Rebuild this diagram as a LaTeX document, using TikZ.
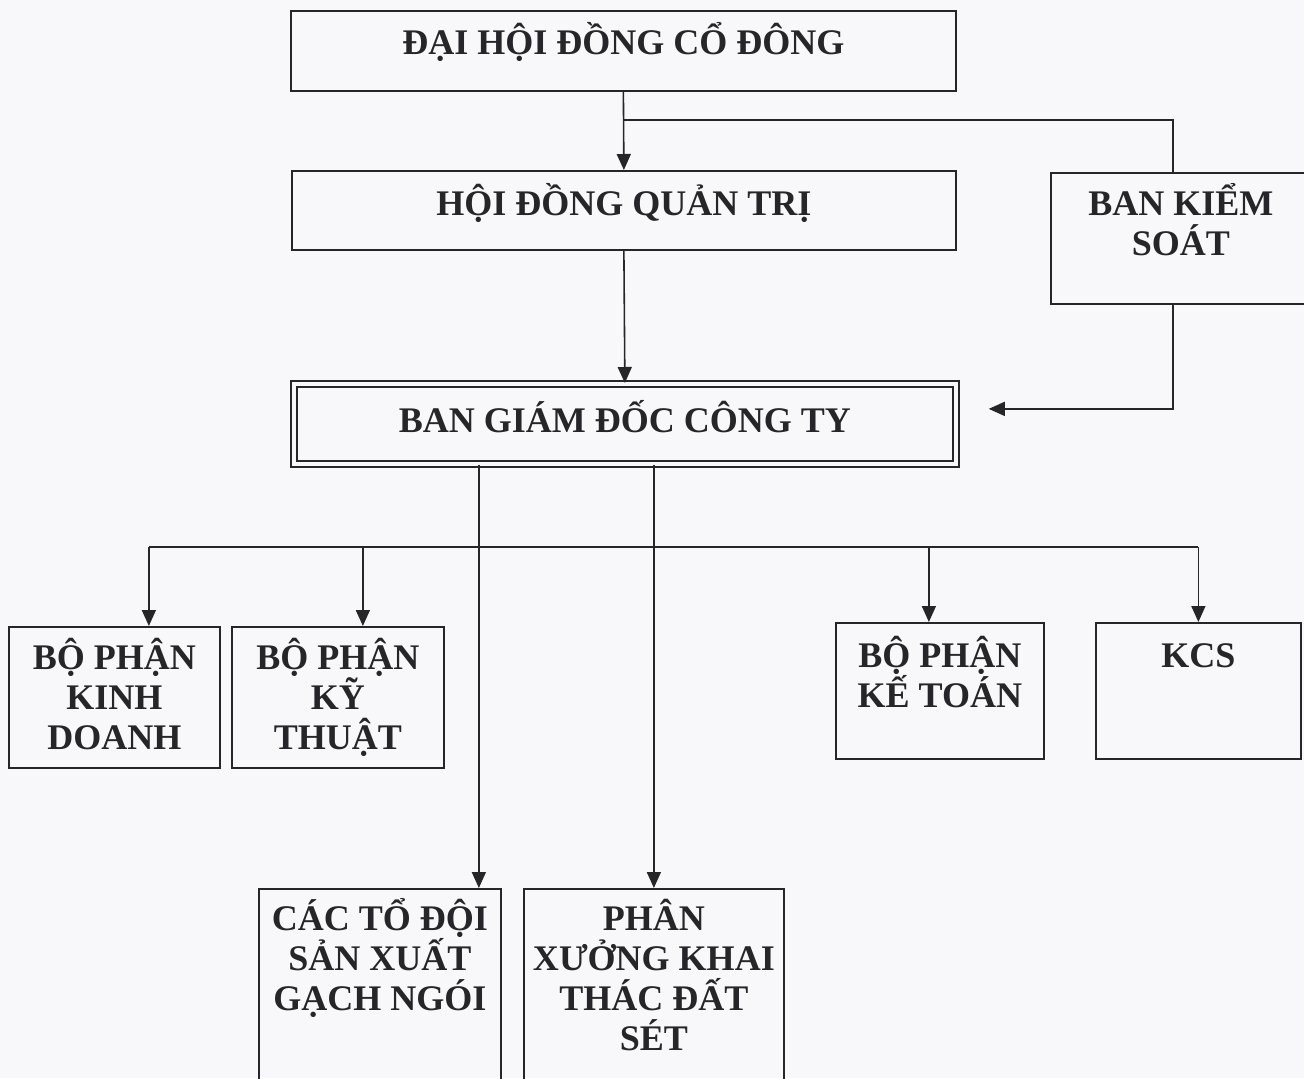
\documentclass[tikz,border=0pt]{standalone}
\usepackage{fontspec}
\setmainfont{Liberation Serif}
\usepackage{tikz}
\usetikzlibrary{positioning,calc,arrows.meta}
\newlength{\pxu}
\setlength{\pxu}{0.02cm}
\definecolor{ink}{RGB}{38,38,42}
\definecolor{paper}{RGB}{248,248,250}
\tikzset{
  orgbox/.style={draw=ink, line width=1pt, inner sep=0pt, anchor=north west, text=ink,
    font=\bfseries\fontsize{20.5pt}{0.8cm}\selectfont},
  link/.style={draw=ink, line width=0.9pt},
  arr/.style={link, -{Triangle[length=0.32cm,width=0.28cm]}}
}
% [options] name, top-left corner, width, height, first baseline, text
\newcommand{\obox}[7][]{\node [orgbox,#1] (#2) at (#3) {\parbox[t][#5\pxu][t]{#4\pxu}{\centering\rule{0pt}{#6\pxu}#7}}}

\begin{document}
\begin{tikzpicture}[x=0.02cm, y=-0.02cm]

\fill[paper] (0,0) rectangle (1304,1078);
\useasboundingbox (0,0) rectangle (1304,1078);

\obox{dhcd}{290,10}{665}{80}{44}{ĐẠI HỘI ĐỒNG CỔ ĐÔNG};
\obox{hdqt}{291,170}{664}{79}{45}{HỘI ĐỒNG QUẢN TRỊ};
\obox{bks}{1050,172}{260}{131}{43}{BAN KIỂM\\SOÁT};
\obox[double=paper, double distance=2.4pt]{bgd}{293,383}{662}{80}{49}{BAN GIÁM ĐỐC CÔNG TY};
\obox{kd}{8,626}{211}{141}{43}{BỘ PHẬN\\KINH\\DOANH};
\obox{kt}{231,626}{212}{141}{43}{BỘ PHẬN\\KỸ\\THUẬT};
\obox{kto}{835,622}{208}{136}{45}{BỘ PHẬN\\KẾ TOÁN};
\obox{kcs}{1095,622}{205}{136}{45}{KCS};
\obox{td}{258,888}{242}{220}{42}{CÁC TỔ ĐỘI\\SẢN XUẤT\\GẠCH NGÓI};
\obox{px}{523,888}{260}{220}{42}{PHÂN\\XƯỞNG KHAI\\THÁC ĐẤT\\SÉT};

\coordinate (split) at ([yshift=-0.56cm]dhcd.south);
\coordinate (bksin) at ([xshift=-0.16cm]bks.north);
\coordinate (bksout) at ([xshift=-0.16cm]bks.south);
\coordinate (bus) at (0,547);
\coordinate (kdin) at ([xshift=0.69cm]kd.north);
\coordinate (ktin) at ([xshift=0.5cm]kt.north);
\coordinate (ktoin) at ([xshift=-0.22cm]kto.north);
\coordinate (tdin) at ([xshift=1.98cm]td.north);

\draw[arr] (dhcd.south) -- (hdqt.north);
\draw[link] (split) -| (bksin);
\draw[arr] (hdqt.south) -- (bgd.north);
\draw[arr, shorten >=0.64cm] (bksout) |- ([yshift=0.3cm]bgd.east);

\draw[link] (kdin |- bus) -- (kcs.north |- bus);
\foreach \t in {kdin,ktin,ktoin,kcs.north}
  \draw[arr] (\t |- bus) -- (\t);
\draw[arr] (bgd.south -| tdin) -- (tdin);
\draw[arr] (bgd.south -| px.north) -- (px.north);

\end{tikzpicture}
\end{document}
